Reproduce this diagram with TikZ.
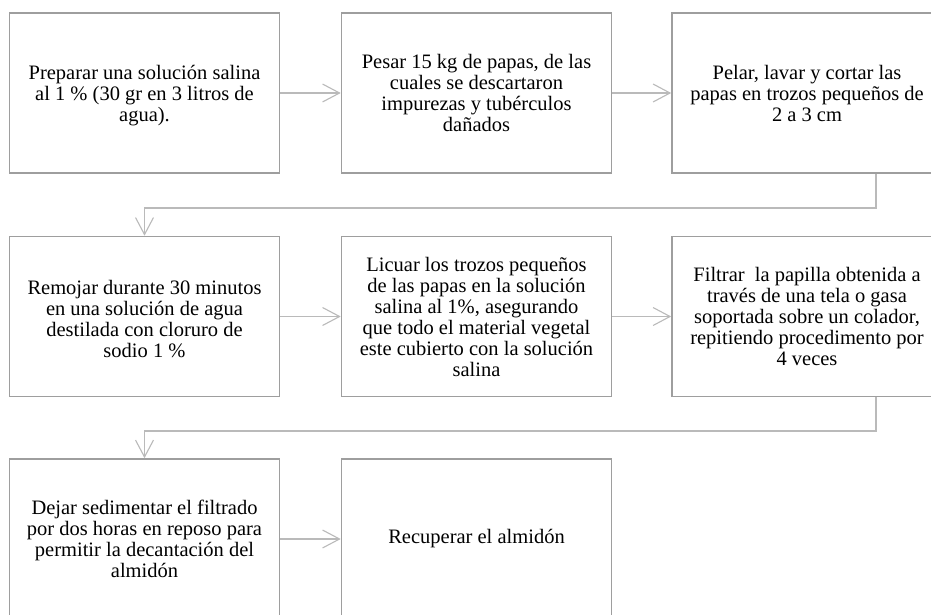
\documentclass[tikz,border=0pt]{standalone}
\usepackage{fontspec}
\setmainfont{Liberation Serif}
\usepackage{tikz}
\usetikzlibrary{arrows.meta}

\begin{document}
\begin{tikzpicture}[x=1pt,y=-1pt]
  \tikzset{>={Straight Barb[length=17pt,width=18pt]}}
  \tikzset{paso/.style={draw=black!38, line width=1.6pt, fill=white, rectangle,
      minimum width=270pt, minimum height=160pt, align=center, inner sep=0pt,
      font=\fontsize{20.5}{21}\selectfont}}
  \tikzset{conn/.style={draw=black!27, line width=1.1pt}}
  \clip (0,0) rectangle (931,615);
  \fill[white] (0,0) rectangle (931,615);

  % fila 1
  \node [paso] (Paso1) at (144.5,93) {\mbox{}\\[-1pt]Preparar una soluci\'on salina\\al 1 \% (30 gr en 3 litros de\\agua).};
  \node [paso] (Paso2) at (476.5,93) {Pesar 15 kg de papas, de las\\cuales se descartaron\\impurezas y tub\'erculos\\da\~nados};
  \node [paso] (Paso3) at (807,93) {Pelar, lavar y cortar las\\papas en trozos peque\~nos de\\2 a 3 cm};
  % fila 2
  \node [paso] (Paso4) at (144.5,316.5) {\mbox{}\\[-1pt]Remojar durante 30 minutos\\en una soluci\'on de agua\\destilada con cloruro de\\sodio 1 \%};
  \node [paso] (Paso5) at (476.5,316.5) {Licuar los trozos peque\~nos\\de las papas en la soluci\'on\\salina al 1\%, asegurando\\que todo el material vegetal\\este cubierto con la soluci\'on\\salina};
  \node [paso] (Paso6) at (807,316.5) {Filtrar\ \ la papilla obtenida a\\trav\'es de una tela o gasa\\soportada sobre un colador,\\repitiendo procedimento por\\4 veces};
  % fila 3
  \node [paso] (Paso7) at (144.5,539) {Dejar sedimentar el filtrado\\por dos horas en reposo para\\permitir la decantaci\'on del\\almid\'on};
  \node [paso] (Paso8) at (476.5,539) {Recuperar el almid\'on};

  \coordinate (Codo1) at (876,208);
  \coordinate (Codo2) at (876,431);

  \draw [conn, ->] (Paso1) -- (Paso2);
  \draw [conn, ->] (Paso2) -- (Paso3);
  \draw [conn, ->] (Paso3.south -| Codo1) -- (Codo1) -| (Paso4.north);
  \draw [conn, ->] (Paso4) -- (Paso5);
  \draw [conn, ->] (Paso5) -- (Paso6);
  \draw [conn, ->] (Paso6.south -| Codo2) -- (Codo2) -| (Paso7.north);
  \draw [conn, ->] (Paso7) -- (Paso8);
\end{tikzpicture}
\end{document}
